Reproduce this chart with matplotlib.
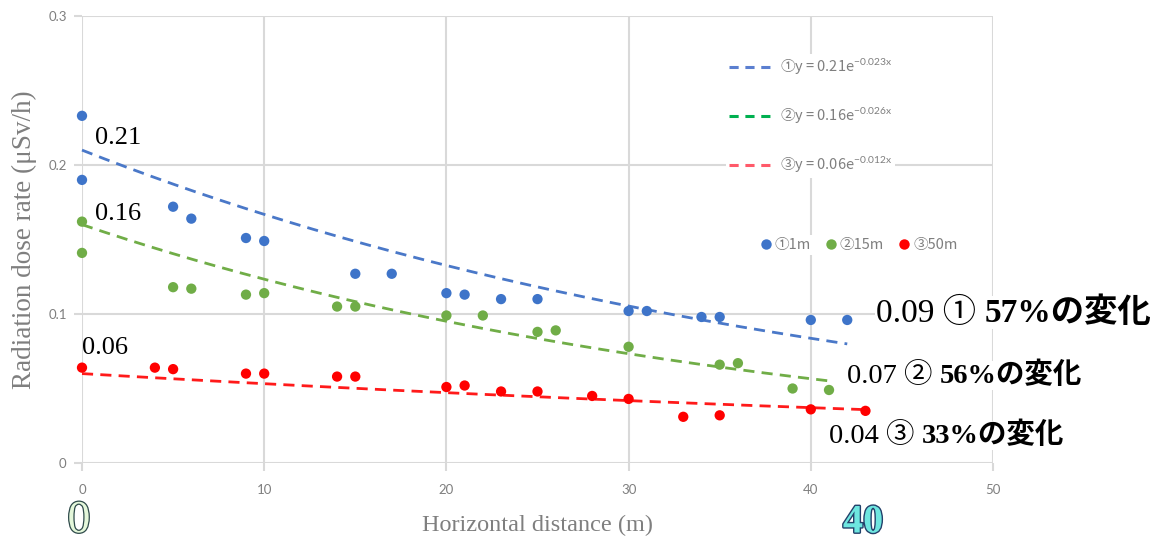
import matplotlib
matplotlib.use("Agg")
import matplotlib.pyplot as plt
import matplotlib.patheffects as pe
from matplotlib.lines import Line2D
import numpy as np

# ---------------- data ----------------
x_1m = [0, 0, 5, 6, 9, 10, 15, 17, 20, 21, 23, 25, 30, 31, 34, 35, 40, 42]
y_1m = [0.233, 0.190, 0.172, 0.164, 0.151, 0.149, 0.127, 0.127, 0.114, 0.113,
        0.110, 0.110, 0.102, 0.102, 0.098, 0.098, 0.096, 0.096]
x_15m = [0, 0, 5, 6, 9, 10, 14, 15, 20, 22, 25, 26, 30, 35, 36, 39, 41]
y_15m = [0.162, 0.141, 0.118, 0.117, 0.113, 0.114, 0.105, 0.105, 0.099, 0.099,
         0.088, 0.089, 0.078, 0.066, 0.067, 0.050, 0.049]
x_50m = [0, 4, 5, 9, 10, 14, 15, 20, 21, 23, 25, 28, 30, 33, 35, 40, 43]
y_50m = [0.064, 0.064, 0.063, 0.060, 0.060, 0.058, 0.058, 0.051, 0.052, 0.048,
         0.048, 0.045, 0.043, 0.031, 0.032, 0.036, 0.035]

fit_a = [0.21, 0.16, 0.06]
fit_b = [-0.023, -0.026, -0.012]
fit_xmax = [42, 41, 43]
fit_labels = ["①y = 0.21e$^{-0.023x}$", "②y = 0.16e$^{-0.026x}$", "③y = 0.06e$^{-0.012x}$"]
series_labels = ["①1m", "②15m", "③50m"]

start_labels = ["0.21", "0.16", "0.06"]
end_labels = ["0.09 ① ", "0.07 ② ", "0.04 ③ "]
change_labels = ["57%の変化", "56%の変化", "33%の変化"]

x_ticks = [0, 10, 20, 30, 40, 50]
y_ticks = [0, 0.1, 0.2, 0.3]

# ---------------- style ----------------
pt_colors = ["#3E74C9", "#70AD47", "#FF0000"]
fit_colors = ["#4A78C8", "#70AD47", "#FF1A1A"]
legend_line_colors = ["#5B7FD0", "#00B050", "#FF5A6A"]
grid_c = "#D9D9D9"
gray_txt = "#7F7F7F"
SERIF = ["Liberation Serif", "Noto Sans CJK JP"]

plt.rcParams["mathtext.fontset"] = "custom"
plt.rcParams["mathtext.rm"] = "Lato"
plt.rcParams["mathtext.it"] = "Lato"

W, H = 1159, 543
fig = plt.figure(figsize=(W / 100, H / 100), dpi=100)
ax = fig.add_axes([82 / W, 1 - 463 / H, (993 - 82) / W, (463 - 16) / H])

ax.set_xlim(0, 50)
ax.set_ylim(0, 0.3)
ax.set_xticks(x_ticks)
ax.set_yticks(y_ticks)
ax.set_xticklabels([str(t) for t in x_ticks])
ax.set_yticklabels(["0", "0.1", "0.2", "0.3"])
ax.grid(True, color=grid_c, linewidth=1.5, zorder=0)
ax.set_axisbelow(True)
for s in ax.spines.values():
    s.set_visible(False)
ax.tick_params(axis="both", length=6, width=1.5, color=grid_c,
               labelcolor=gray_txt, labelsize=9.5)
ax.tick_params(axis="x", pad=9)
ax.tick_params(axis="y", pad=5)
for lab in ax.get_xticklabels() + ax.get_yticklabels():
    lab.set_family("Lato")

ax.set_xlabel("Horizontal distance (m)", family=SERIF, fontsize=17.5,
              color=gray_txt, labelpad=14)
ax.set_ylabel("Radiation dose rate (μSv/h)", family=SERIF, fontsize=19.5,
              color=gray_txt, labelpad=8)

# trend lines
for a, b, xm, c in zip(fit_a, fit_b, fit_xmax, fit_colors):
    xx = np.linspace(0, xm, 200)
    ax.plot(xx, a * np.exp(b * xx), color=c, linewidth=2.0,
            dashes=(4, 2.6), zorder=2, clip_on=False)

# scatter points
for xs, ys, c in zip([x_1m, x_15m, x_50m], [y_1m, y_15m, y_50m], pt_colors):
    ax.scatter(xs, ys, s=55, color=c, edgecolors="none", zorder=3, clip_on=False)

# legends
line_handles = [Line2D([], [], color=c, linewidth=2.2, dashes=(3, 2.2))
                for c in legend_line_colors]
leg1 = fig.legend(line_handles, fit_labels, loc="center left",
                  bbox_to_anchor=(719 / W, 1 - 116 / H), frameon=True,
                  facecolor="white", edgecolor="none", framealpha=1,
                  borderpad=0.2, handlelength=3.0, handletextpad=0.45,
                  labelspacing=1.95, prop={"family": "Noto Sans CJK JP", "size": 10.5})
for t in leg1.get_texts():
    t.set_color(gray_txt)

pt_handles = [Line2D([], [], linestyle="none", marker="o", markersize=7.5,
                     markerfacecolor=c, markeredgecolor="none") for c in pt_colors]
leg2 = fig.legend(pt_handles, series_labels, loc="center left",
                  bbox_to_anchor=(751 / W, 1 - 245 / H), frameon=True,
                  facecolor="white", edgecolor="none", framealpha=1, ncol=3,
                  borderpad=0.2, handlelength=0.6, handletextpad=0.3,
                  columnspacing=1.1, prop={"family": "Noto Sans CJK JP", "size": 10.5})
for t in leg2.get_texts():
    t.set_color(gray_txt)

# start annotations
start_pos = [(95, 138), (95, 214), (82, 348)]
for lbl, (px, py) in zip(start_labels, start_pos):
    fig.text(px / W, 1 - py / H, lbl, family=SERIF, fontsize=19,
             color="black", ha="left", va="center")

# end annotations (two parts: regular + bold)
end_pos = [(876, 313, 24), (847, 376, 20.5), (829, 436, 20.5)]
for l1, l2, (px, py, fs) in zip(end_labels, change_labels, end_pos):
    t1 = fig.text(px / W, 1 - py / H, l1, family=SERIF, fontsize=fs,
                  color="black", ha="left", va="center",
                  bbox=dict(facecolor="white", edgecolor="none", pad=0.5))
    ax.annotate(l2, xy=(1, 0), xycoords=t1, ha="left", va="bottom",
                family=SERIF, fontsize=fs, fontweight="bold", color="black",
                bbox=dict(facecolor="white", edgecolor="none", pad=0.5),
                annotation_clip=False)

# bottom highlighted numbers
fig.text(79 / W, 1 - 521 / H, "0", family="Liberation Serif", fontsize=33,
         color="#E4F7DA", ha="center", va="center",
         path_effects=[pe.Stroke(linewidth=1.8, foreground="#2E4A4A"), pe.Normal()])
fig.text(863 / W, 1 - 523 / H, "40", family="Liberation Serif", fontsize=29,
         fontweight="bold", color="#6EE6E0", ha="center", va="center",
         path_effects=[pe.Stroke(linewidth=2.0, foreground="#23406A"), pe.Normal()])

fig.savefig("out.png", dpi=100)
